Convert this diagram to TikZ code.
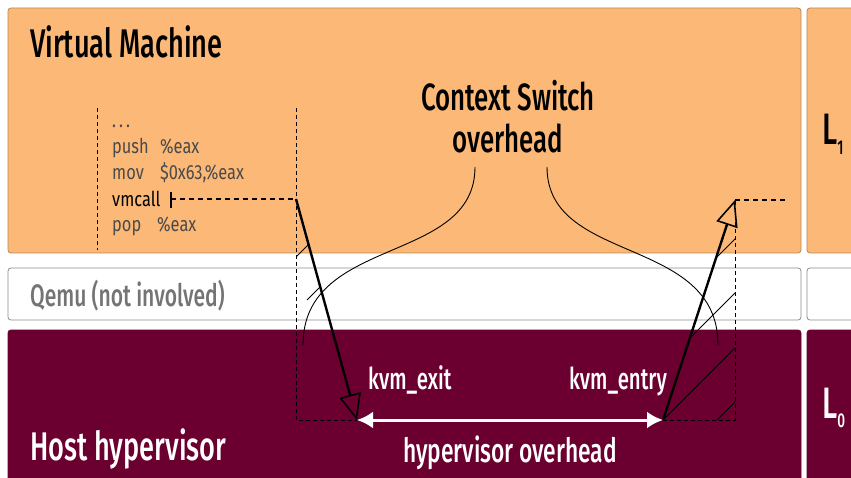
\documentclass[tikz,border=0pt]{standalone}
\usepackage{fontspec}
\setmainfont[FakeStretch=0.68, UprightFont={* Medium}]{Fira Sans}
\newfontfamily\codefont[FakeStretch=0.8]{Fira Sans}
\usetikzlibrary{arrows.meta}
\definecolor{vmorange}{HTML}{FBB877}
\definecolor{vmedge}{HTML}{B98954}
\definecolor{hostred}{HTML}{6B0030}
\definecolor{codegray}{HTML}{4A4A4A}
\definecolor{qemugray}{HTML}{747474}
\definecolor{qemuedge}{HTML}{8C8C8C}
\tikzset{
  layer/.style={rounded corners=3pt, line width=0.8pt},
  orangebox/.style={layer, fill=vmorange, draw=vmedge},
  whitebox/.style={layer, fill=white, draw=qemuedge},
  redbox/.style={layer, fill=hostred, draw=hostred},
  bigtitle/.style={anchor=base west, inner sep=0pt, font=\fontsize{40}{48}\selectfont},
  codeline/.style={anchor=base west, inner sep=0pt, text=codegray, font=\codefont\fontsize{20.5}{24}\selectfont},
  guide/.style={dash pattern=on 4pt off 3pt, line width=0.8pt},
  calldash/.style={dash pattern=on 5pt off 4pt, line width=1.3pt},
  hatch/.style={line width=0.8pt},
  bigarrow/.style={line width=2.4pt, -{Triangle[open, length=26pt, width=22pt, line width=1.6pt]}},
  ovarrow/.style={white, line width=3pt, {Latex[length=16pt, width=17pt]}-{Latex[length=16pt, width=17pt]}},
  cscurve/.style={line width=0.9pt}
}
\begin{document}
\begin{tikzpicture}[x=1pt, y=-1pt]
\useasboundingbox (0,0) rectangle (851,478);
\clip (0,0) rectangle (851,478);
\fill[white] (0,0) rectangle (851,478);
% layers
\draw[orangebox] (8,8) rectangle (801,253);
\draw[orangebox] (807,8) rectangle (870,253);
\draw[whitebox] (8,268) rectangle (801,320);
\draw[whitebox] (807,268) rectangle (870,320);
\draw[redbox] (8,330) rectangle (801,500);
\draw[redbox] (807,330) rectangle (870,500);
% layer labels
\node[bigtitle] (vm) at (30,58) {Virtual Machine};
\node[anchor=base west, inner sep=0pt, text=qemugray, font=\fontsize{31}{36}\selectfont] (qemu) at (30,306) {Qemu (not involved)};
\node[bigtitle, text=white] (host) at (30,460) {Host hypervisor};
\node[anchor=base west, inner sep=0pt, font=\fontsize{44}{50}\selectfont] (l1) at (822,145) {L\raisebox{-0.22em}{\fontsize{20}{24}\selectfont 1}};
\node[anchor=base west, inner sep=0pt, text=white, font=\fontsize{44}{50}\selectfont] (l0) at (822,418) {L\raisebox{-0.22em}{\fontsize{20}{24}\selectfont 0}};
% code
\node[codeline] (dots) at (112,128) {.\hspace{3pt}.\hspace{3pt}.};
\node[codeline] (push) at (112,154) {push};
\node[codeline] (pushop) at (160,154) {\%eax};
\node[codeline] (mov) at (112,180) {mov};
\node[codeline] (movop) at (160,180) {\$0x63,\%eax};
\node[codeline, text=black] (vmcall) at (112,207) {vmcall};
\node[codeline] (pop) at (112,232) {pop};
\node[codeline] (popop) at (157,232) {\%eax};
% guide lines
\coordinate (gl1) at (97,108);
\coordinate (gl2) at (97,250);
\coordinate (gr1) at (296,108);
\coordinate (exitA) at (296,199);
\coordinate (exitC) at (296,420);
\coordinate (exitB) at (357,420);
\coordinate (entryA) at (663,420);
\coordinate (entryB) at (735,200);
\coordinate (entryC) at (735,420);
\coordinate (entryD) at (785,200);
\coordinate (tick) at (171,199);
\draw[guide] (gl1) -- (gl2);
\draw[guide] (gr1) -- (exitC) -- (exitB);
\draw[guide] (entryA) -- (entryC) -- (entryB);
\draw[calldash] (entryB) -- (entryD);
\draw[calldash] (tick) -- (exitA);
\draw[line width=1.8pt] (171,192) -- (171,208);
% hatching
\begin{scope}
\clip (exitA) -- (exitC) -- (exitB) -- cycle;
\foreach \c in {553,607,661,715} \draw[hatch] (\c-300,300) -- (\c-100,100);
\end{scope}
\begin{scope}
\clip (entryB) -- (entryC) -- (entryA) -- cycle;
\foreach \c in {974,1028,1083,1137} \draw[hatch] (\c-440,440) -- (\c-180,180);
\end{scope}
% context switch curves
\node[font=\fontsize{38}{42}\selectfont, inner sep=0pt, anchor=base] (cs) at (508,111) {Context Switch};
\node[font=\fontsize{38}{42}\selectfont, inner sep=0pt, anchor=base] (csov) at (508,153) {overhead};
\coordinate (csL) at (475,167);
\coordinate (csR) at (547,167);
\coordinate (csLe) at (303,345);
\coordinate (csRe) at (718,345);
\draw[cscurve] (csL) .. controls (475,265) and (303,235) .. (csLe);
\draw[cscurve] (csR) .. controls (547,265) and (718,235) .. (csRe);
% main arrows
\draw[bigarrow] (exitA) -- (exitB);
\draw[bigarrow] (entryA) -- (entryB);
\draw[ovarrow] (exitB) -- (entryA);
% labels
\node[anchor=base west, inner sep=0pt, text=white, font=\fontsize{30}{34}\selectfont] (kexit) at (368,389) {kvm\_exit};
\node[anchor=base east, inner sep=0pt, text=white, font=\fontsize{30}{34}\selectfont] (kentry) at (667,389) {kvm\_entry};
\node[anchor=base, inner sep=0pt, text=white, font=\fontsize{33.5}{38}\selectfont] (hov) at (510,462) {hypervisor overhead};
\end{tikzpicture}
\end{document}
